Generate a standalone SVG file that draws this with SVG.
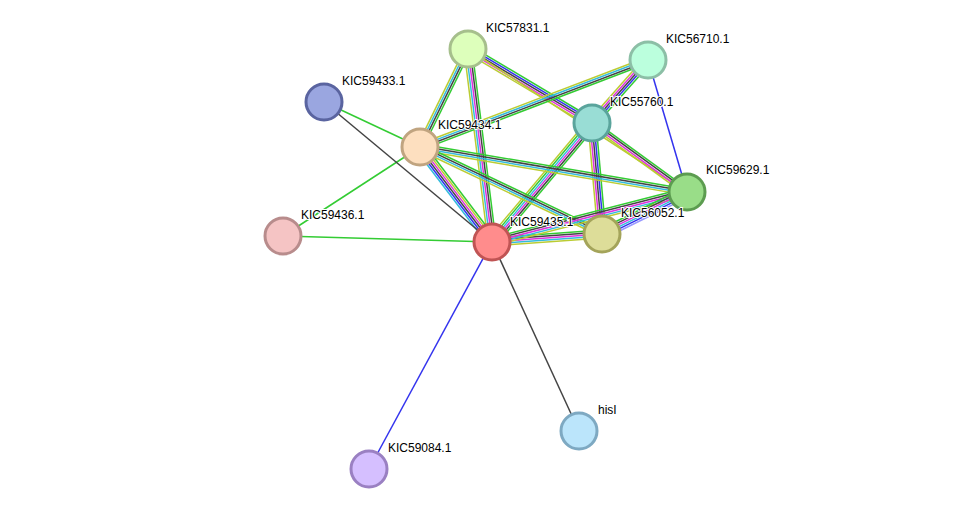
<svg xmlns="http://www.w3.org/2000/svg" width="975" height="515" viewBox="0 0 975 515">
<style>
line{stroke-width:1.5;fill:none}
.g{stroke:#33cc33}.k{stroke:#444}.m{stroke:#dd33dd}.c{stroke:#33bbdd}.y{stroke:#bbcc33}.b{stroke:#3333ee}.l{stroke:#9999ff}
circle{stroke-width:3}
text{font-family:"Liberation Sans",Arial,sans-serif;font-size:12px;fill:#000;paint-order:stroke;stroke:#fff;stroke-width:2px}
</style>
<rect width="975" height="515" fill="#fff"/>
<g id="connectors">
<g transform="translate(468,49) rotate(116.1)"><line class="g" x1="0" y1="-3" x2="109.1" y2="-3"/><line class="k" x1="0" y1="-1" x2="109.1" y2="-1"/><line class="c" x1="0" y1="1" x2="109.1" y2="1"/><line class="y" x1="0" y1="3" x2="109.1" y2="3"/></g>
<g transform="translate(468,49) rotate(82.9)"><line class="g" x1="0" y1="-4" x2="194.5" y2="-4"/><line class="k" x1="0" y1="-2" x2="194.5" y2="-2"/><line class="m" x1="0" y1="0" x2="194.5" y2="0"/><line class="c" x1="0" y1="2" x2="194.5" y2="2"/><line class="y" x1="0" y1="4" x2="194.5" y2="4"/></g>
<g transform="translate(468,49) rotate(30.8)"><line class="g" x1="0" y1="-4" x2="144.4" y2="-4"/><line class="b" x1="0" y1="-2" x2="144.4" y2="-2"/><line class="k" x1="0" y1="0" x2="144.4" y2="0"/><line class="m" x1="0" y1="2" x2="144.4" y2="2"/><line class="y" x1="0" y1="4" x2="144.4" y2="4"/></g>
<line class="y" x1="468" y1="49" x2="687" y2="192"/>
<g transform="translate(648,60) rotate(159.1)"><line class="g" x1="0" y1="-3" x2="244" y2="-3"/><line class="k" x1="0" y1="-1" x2="244" y2="-1"/><line class="c" x1="0" y1="1" x2="244" y2="1"/><line class="y" x1="0" y1="3" x2="244" y2="3"/></g>
<g transform="translate(648,60) rotate(131.6)"><line class="g" x1="0" y1="-4" x2="84.3" y2="-4"/><line class="b" x1="0" y1="-2" x2="84.3" y2="-2"/><line class="k" x1="0" y1="0" x2="84.3" y2="0"/><line class="m" x1="0" y1="2" x2="84.3" y2="2"/><line class="y" x1="0" y1="4" x2="84.3" y2="4"/></g>
<line class="b" x1="648" y1="60" x2="687" y2="192"/>
<g transform="translate(592,123) rotate(130)"><line class="g" x1="0" y1="-5" x2="155.4" y2="-5"/><line class="k" x1="0" y1="-3" x2="155.4" y2="-3"/><line class="m" x1="0" y1="-1" x2="155.4" y2="-1"/><line class="c" x1="0" y1="1" x2="155.4" y2="1"/><line class="g" x1="0" y1="3" x2="155.4" y2="3"/><line class="y" x1="0" y1="5" x2="155.4" y2="5"/></g>
<g transform="translate(592,123) rotate(36)"><line class="g" x1="0" y1="-3" x2="117.4" y2="-3"/><line class="k" x1="0" y1="-1" x2="117.4" y2="-1"/><line class="m" x1="0" y1="1" x2="117.4" y2="1"/><line class="y" x1="0" y1="3" x2="117.4" y2="3"/></g>
<g transform="translate(592,123) rotate(84.9)"><line class="g" x1="0" y1="-4" x2="111.4" y2="-4"/><line class="b" x1="0" y1="-2" x2="111.4" y2="-2"/><line class="k" x1="0" y1="0" x2="111.4" y2="0"/><line class="m" x1="0" y1="2" x2="111.4" y2="2"/><line class="y" x1="0" y1="4" x2="111.4" y2="4"/></g>
<g transform="translate(420,147) rotate(9.6)"><line class="g" x1="0" y1="-3" x2="270.8" y2="-3"/><line class="k" x1="0" y1="-1" x2="270.8" y2="-1"/><line class="c" x1="0" y1="1" x2="270.8" y2="1"/><line class="y" x1="0" y1="3" x2="270.8" y2="3"/></g>
<g transform="translate(420,147) rotate(25.5)"><line class="g" x1="0" y1="-3" x2="201.7" y2="-3"/><line class="k" x1="0" y1="-1" x2="201.7" y2="-1"/><line class="c" x1="0" y1="1" x2="201.7" y2="1"/><line class="y" x1="0" y1="3" x2="201.7" y2="3"/></g>
<g transform="translate(420,147) rotate(52.8)"><line class="g" x1="0" y1="-5" x2="119.2" y2="-5"/><line class="y" x1="0" y1="-3" x2="119.2" y2="-3"/><line class="m" x1="0" y1="-1" x2="119.2" y2="-1"/><line class="k" x1="0" y1="1" x2="119.2" y2="1"/><line class="b" x1="0" y1="3" x2="119.2" y2="3"/><line class="c" x1="0" y1="5" x2="119.2" y2="5"/></g>
<g transform="translate(492,242) rotate(-4.2)"><line class="g" x1="0" y1="-4" x2="110.3" y2="-4"/><line class="k" x1="0" y1="-2" x2="110.3" y2="-2"/><line class="m" x1="0" y1="0" x2="110.3" y2="0"/><line class="c" x1="0" y1="2" x2="110.3" y2="2"/><line class="y" x1="0" y1="4" x2="110.3" y2="4"/></g>
<g transform="translate(492,242) rotate(-14.4)"><line class="g" x1="0" y1="-4" x2="201.3" y2="-4"/><line class="k" x1="0" y1="-2" x2="201.3" y2="-2"/><line class="m" x1="0" y1="0" x2="201.3" y2="0"/><line class="c" x1="0" y1="2" x2="201.3" y2="2"/><line class="y" x1="0" y1="4" x2="201.3" y2="4"/></g>
<g transform="translate(602,234) rotate(-26.3)"><line class="g" x1="0" y1="-5" x2="94.8" y2="-5"/><line class="k" x1="0" y1="-3" x2="94.8" y2="-3"/><line class="m" x1="0" y1="-1" x2="94.8" y2="-1"/><line class="c" x1="0" y1="1" x2="94.8" y2="1"/><line class="b" x1="0" y1="3" x2="94.8" y2="3"/><line class="l" x1="0" y1="5" x2="94.8" y2="5"/></g>
<line class="g" x1="420" y1="147" x2="283" y2="236"/>
<line class="g" x1="420" y1="147" x2="324" y2="102"/>
<line class="k" x1="324" y1="102" x2="492" y2="242"/>
<line class="g" x1="283" y1="236" x2="492" y2="242"/>
<line class="k" x1="492" y1="242" x2="579" y2="431"/>
<line class="b" x1="492" y1="242" x2="369" y2="469"/>
</g>
<g id="KIC57831.1"><circle cx="468" cy="49" r="18" fill="#ddffbb" stroke="#a6bf8c"/><text x="486" y="32">KIC57831.1</text></g>
<g id="KIC56710.1"><circle cx="648" cy="60" r="18" fill="#bbffdd" stroke="#8cbfa6"/><text x="666" y="43">KIC56710.1</text></g>
<g id="KIC59433.1"><circle cx="324" cy="102" r="18" fill="#9aa6e0" stroke="#5a64a0"/><text x="342" y="85">KIC59433.1</text></g>
<g id="KIC55760.1"><circle cx="592" cy="123" r="18" fill="#99ddd5" stroke="#5aa49c"/><text x="610" y="106">KIC55760.1</text></g>
<g id="KIC59434.1"><circle cx="420" cy="147" r="18" fill="#fddfbf" stroke="#c0a480"/><text x="438" y="129">KIC59434.1</text></g>
<g id="KIC59629.1"><circle cx="687" cy="192" r="18" fill="#99dd88" stroke="#5c9c50"/><text x="706" y="174">KIC59629.1</text></g>
<g id="KIC59436.1"><circle cx="283" cy="236" r="18" fill="#f5c4c4" stroke="#b88c8c"/><text x="301" y="219">KIC59436.1</text></g>
<g id="KIC59435.1"><circle cx="492" cy="242" r="18" fill="#ff8c8c" stroke="#c05454"/><text x="510" y="226">KIC59435.1</text></g>
<g id="KIC56052.1"><circle cx="602" cy="234" r="18" fill="#dddd99" stroke="#a4a45a"/><text x="621" y="217">KIC56052.1</text></g>
<g id="hisI"><circle cx="579" cy="431" r="18" fill="#bbe5fb" stroke="#7ea9c2"/><text x="598" y="414">hisI</text></g>
<g id="KIC59084.1"><circle cx="369" cy="469" r="18" fill="#d5bfff" stroke="#9a80c2"/><text x="388" y="452">KIC59084.1</text></g>
</svg>
